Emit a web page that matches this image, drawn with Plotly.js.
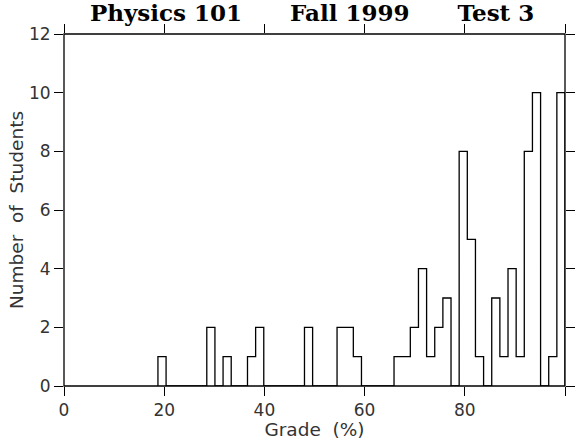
<!DOCTYPE html>
<html>
<head>
<meta charset="utf-8">
<script src="https://cdn.plot.ly/plotly-3.0.1.min.js"></script>
<style>
  html, body { margin: 0; padding: 0; background: #fff; }
  #chart { width: 579px; height: 440px; }
</style>
</head>
<body>
<div id="chart"></div>
<script>
// Histogram bins: 50 bins from the lowest grade to 100
var binStart = 18.75;
var binWidth = 1.625;
var counts = [1, 0, 0, 0, 0, 0, 2, 0, 1, 0,
              0, 1, 2, 0, 0, 0, 0, 0, 2, 0,
              0, 0, 2, 2, 1, 0, 0, 0, 0, 1,
              1, 2, 4, 1, 2, 3, 0, 8, 5, 1,
              0, 3, 1, 4, 1, 8, 10, 0, 1, 10];
var xTicks = [0, 20, 40, 60, 80, 100];
var yTicks = [0, 2, 4, 6, 8, 10, 12];
var gap = "\u00a0\u00a0\u00a0\u00a0\u00a0\u00a0";
var titleText = "Physics 101" + gap + "Fall 1999" + gap + "Test 3";
var xTitle = "Grade\u00a0\u00a0(%)";
var yTitle = "Number\u00a0\u00a0of\u00a0\u00a0Students";

var xs = [binStart], ys = [0];
for (var k = 0; k < counts.length; k++) {
  xs.push(binStart + k * binWidth);
  ys.push(counts[k]);
}
var lastEdge = binStart + counts.length * binWidth;
xs.push(lastEdge); ys.push(counts[counts.length - 1]);
xs.push(lastEdge); ys.push(0);

var trace = {
  x: xs, y: ys, type: 'scatter', mode: 'lines',
  line: { shape: 'hv', color: '#000', width: 1.3 },
  cliponaxis: false, hoverinfo: 'skip'
};

var tickFont = { family: 'DejaVu Sans, Arial, sans-serif', size: 17, color: '#333' };
var axTitleFont = { family: 'DejaVu Sans, Arial, sans-serif', size: 18.5, color: '#333' };

var layout = {
  width: 579, height: 440,
  margin: { l: 64, r: 14, t: 34, b: 54 },
  paper_bgcolor: '#fff', plot_bgcolor: '#fff',
  showlegend: false,
  title: {
    text: titleText,
    font: { family: 'DejaVu Serif, Liberation Serif, serif', size: 23, color: '#000', weight: 'bold' },
    x: 0.539, xanchor: 'center', y: 0.99, yanchor: 'top'
  },
  xaxis: {
    range: [0, 100], tickvals: xTicks, ticktext: xTicks.map(String),
    ticks: 'outside', ticklen: 9, tickwidth: 1, tickcolor: '#000',
    showline: false, mirror: 'ticks',
    showgrid: false, zeroline: false, tickfont: tickFont,
    title: { text: xTitle, font: axTitleFont, standoff: 0 }
  },
  yaxis: {
    range: [0, 12], tickvals: yTicks, ticktext: yTicks.map(String),
    ticks: 'outside', ticklen: 9, tickwidth: 1, tickcolor: '#000',
    showline: false, mirror: 'ticks',
    showgrid: false, zeroline: false, tickfont: tickFont,
    title: { text: yTitle, font: axTitleFont, standoff: 0 }
  },
  shapes: [{
    type: 'rect', xref: 'paper', yref: 'paper', x0: 0, x1: 1, y0: 0, y1: 1,
    line: { color: '#000', width: 1.3 }, fillcolor: 'rgba(0,0,0,0)', layer: 'above'
  }]
};

Plotly.newPlot('chart', [trace], layout, { staticPlot: true, displayModeBar: false });
</script>
</body>
</html>
